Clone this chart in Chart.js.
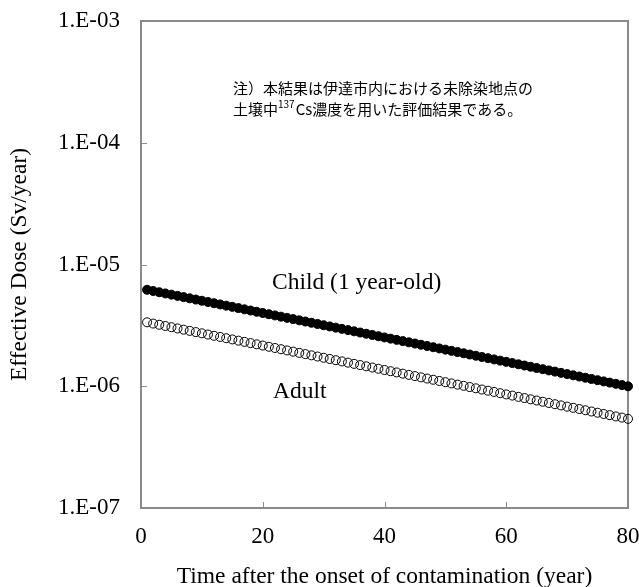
<!DOCTYPE html>
<html>
<head>
<meta charset="utf-8">
<script src="https://cdn.jsdelivr.net/npm/chart.js@4"></script>
<style>
  body { margin: 0; background: #fff; }
  canvas { display: block; }
</style>
</head>
<body>
<canvas id="myChart" width="639" height="587"></canvas>
<script>
// years after onset of contamination
const years = [1, 2, 3, 4, 5, 6, 7, 8, 9, 10, 11, 12, 13, 14, 15, 16, 17, 18, 19, 20,
  21, 22, 23, 24, 25, 26, 27, 28, 29, 30, 31, 32, 33, 34, 35, 36, 37, 38, 39, 40,
  41, 42, 43, 44, 45, 46, 47, 48, 49, 50, 51, 52, 53, 54, 55, 56, 57, 58, 59, 60,
  61, 62, 63, 64, 65, 66, 67, 68, 69, 70, 71, 72, 73, 74, 75, 76, 77, 78, 79, 80];

// effective dose, Sv/year
const childDose = [
  6.200e-6, 6.058e-6, 5.920e-6, 5.785e-6, 5.653e-6, 5.524e-6, 5.397e-6, 5.274e-6, 5.154e-6, 5.036e-6,
  4.921e-6, 4.809e-6, 4.699e-6, 4.591e-6, 4.487e-6, 4.384e-6, 4.284e-6, 4.186e-6, 4.090e-6, 3.997e-6,
  3.906e-6, 3.817e-6, 3.729e-6, 3.644e-6, 3.561e-6, 3.480e-6, 3.400e-6, 3.323e-6, 3.247e-6, 3.172e-6,
  3.100e-6, 3.029e-6, 2.960e-6, 2.892e-6, 2.826e-6, 2.762e-6, 2.699e-6, 2.637e-6, 2.577e-6, 2.518e-6,
  2.460e-6, 2.404e-6, 2.349e-6, 2.296e-6, 2.243e-6, 2.192e-6, 2.142e-6, 2.093e-6, 2.045e-6, 1.999e-6,
  1.953e-6, 1.908e-6, 1.865e-6, 1.822e-6, 1.781e-6, 1.740e-6, 1.700e-6, 1.661e-6, 1.623e-6, 1.586e-6,
  1.550e-6, 1.515e-6, 1.480e-6, 1.446e-6, 1.413e-6, 1.381e-6, 1.349e-6, 1.319e-6, 1.288e-6, 1.259e-6,
  1.230e-6, 1.202e-6, 1.175e-6, 1.148e-6, 1.122e-6, 1.096e-6, 1.071e-6, 1.047e-6, 1.023e-6, 0.999e-6
];
const adultDose = [
  3.350e-6, 3.273e-6, 3.199e-6, 3.126e-6, 3.054e-6, 2.985e-6, 2.916e-6, 2.850e-6, 2.785e-6, 2.721e-6,
  2.659e-6, 2.598e-6, 2.539e-6, 2.481e-6, 2.424e-6, 2.369e-6, 2.315e-6, 2.262e-6, 2.210e-6, 2.160e-6,
  2.110e-6, 2.062e-6, 2.015e-6, 1.969e-6, 1.924e-6, 1.880e-6, 1.837e-6, 1.795e-6, 1.754e-6, 1.714e-6,
  1.675e-6, 1.637e-6, 1.599e-6, 1.563e-6, 1.527e-6, 1.492e-6, 1.458e-6, 1.425e-6, 1.392e-6, 1.360e-6,
  1.329e-6, 1.299e-6, 1.269e-6, 1.240e-6, 1.212e-6, 1.184e-6, 1.157e-6, 1.131e-6, 1.105e-6, 1.080e-6,
  1.055e-6, 1.031e-6, 1.008e-6, 0.985e-6, 0.962e-6, 0.940e-6, 0.919e-6, 0.898e-6, 0.877e-6, 0.857e-6,
  0.838e-6, 0.818e-6, 0.800e-6, 0.781e-6, 0.764e-6, 0.746e-6, 0.729e-6, 0.712e-6, 0.696e-6, 0.680e-6,
  0.665e-6, 0.650e-6, 0.635e-6, 0.620e-6, 0.606e-6, 0.592e-6, 0.579e-6, 0.565e-6, 0.553e-6, 0.540e-6
];

const yTicks = [1e-7, 1e-6, 1e-5, 1e-4, 1e-3];
const yTickLabels = ['1.E-07', '1.E-06', '1.E-05', '1.E-04', '1.E-03'];
const xTicks = [0, 20, 40, 60, 80];

const serif = 'Liberation Serif, Times New Roman, serif';
const jp = '"Noto Sans CJK JP", sans-serif';
const frameColor = '#8a8a8a';

const framePlugin = {
  id: 'frame',
  beforeDatasetsDraw(chart) {
    const { ctx, chartArea: a, scales } = chart;
    ctx.save();
    ctx.strokeStyle = frameColor;
    // inward tick marks
    ctx.lineWidth = 1;
    ctx.beginPath();
    yTicks.forEach(v => {
      const y = Math.round(scales.y.getPixelForValue(v)) + 0.5;
      ctx.moveTo(a.left, y);
      ctx.lineTo(a.left + 6, y);
    });
    xTicks.forEach(v => {
      const x = Math.round(scales.x.getPixelForValue(v)) + 0.5;
      ctx.moveTo(x, a.bottom);
      ctx.lineTo(x, a.bottom - 6);
    });
    ctx.stroke();
    ctx.lineWidth = 2;
    ctx.strokeRect(a.left, a.top, a.right - a.left, a.bottom - a.top);
    ctx.restore();
  },
  afterDraw(chart) {
    const { ctx } = chart;
    ctx.save();
    ctx.fillStyle = '#000';
    ctx.textBaseline = 'middle';
    ctx.font = '23.5px ' + serif;
    ctx.fillText('Child (1 year-old)', 272, 283);
    ctx.fillText('Adult', 273, 392);

    ctx.font = '15px ' + jp;
    ctx.fillText('注）本結果は伊達市内における未除染地点の', 233, 88);
    let x = 233;
    const s1 = '土壌中';
    ctx.fillText(s1, x, 109);
    x += ctx.measureText(s1).width;
    ctx.font = '10px ' + jp;
    ctx.fillText('137', x, 104);
    x += ctx.measureText('137').width + 1;
    ctx.font = '15px ' + jp;
    ctx.fillText('Cs濃度を用いた評価結果である。', x, 109);
    ctx.restore();
  }
};

new Chart(document.getElementById('myChart'), {
  type: 'scatter',
  data: {
    datasets: [
      {
        label: 'Child (1 year-old)',
        data: years.map((t, i) => ({ x: t, y: childDose[i] })),
        pointRadius: 4.5,
        pointBackgroundColor: '#000',
        pointBorderColor: '#000',
        pointBorderWidth: 1,
        clip: false
      },
      {
        label: 'Adult',
        data: years.map((t, i) => ({ x: t, y: adultDose[i] })),
        pointRadius: 4.5,
        pointBackgroundColor: 'rgba(0,0,0,0)',
        pointBorderColor: '#000',
        pointBorderWidth: 1,
        clip: false
      }
    ]
  },
  options: {
    responsive: false,
    animation: false,
    layout: { padding: { left: 0, top: 21, right: 11, bottom: 0 } },
    plugins: { legend: { display: false }, tooltip: { enabled: false } },
    scales: {
      x: {
        type: 'linear',
        min: 0,
        max: 80,
        grid: { display: false, drawTicks: false },
        border: { display: false },
        afterBuildTicks(scale) { scale.ticks = xTicks.map(v => ({ value: v })); },
        afterFit(scale) {
          scale.height = 79;
          scale.paddingLeft = 0;
          scale.paddingRight = 0;
        },
        ticks: {
          color: '#000',
          font: { family: serif, size: 23 },
          padding: 15,
          maxRotation: 0
        },
        title: {
          display: true,
          text: 'Time after the onset of contamination (year)',
          color: '#000',
          font: { family: serif, size: 23.5, lineHeight: 1 },
          padding: { top: 0, bottom: -2 }
        }
      },
      y: {
        type: 'logarithmic',
        min: 1e-7,
        max: 1e-3,
        grid: { display: false, drawTicks: false },
        border: { display: false },
        afterBuildTicks(scale) { scale.ticks = yTicks.map(v => ({ value: v })); },
        afterFit(scale) {
          scale.width = 141;
          scale.paddingTop = 0;
          scale.paddingBottom = 0;
        },
        ticks: {
          color: '#000',
          font: { family: serif, size: 23 },
          padding: 21,
          callback: (v) => yTickLabels[yTicks.indexOf(v)]
        },
        title: {
          display: true,
          text: 'Effective Dose (Sv/year)',
          color: '#000',
          font: { family: serif, size: 23.5, lineHeight: 1 },
          padding: { top: 8, bottom: 0 }
        }
      }
    }
  },
  plugins: [framePlugin]
});
</script>
</body>
</html>
